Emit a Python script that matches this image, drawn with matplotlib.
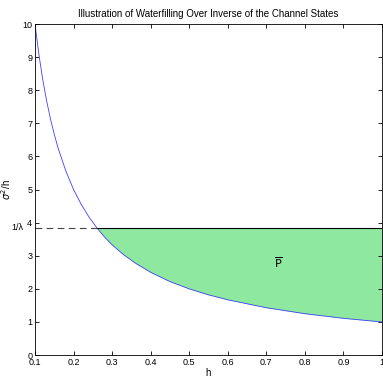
import matplotlib.pyplot as plt
import numpy as np

plt.rcParams['font.family'] = ['Liberation Sans Narrow', 'Liberation Sans', 'DejaVu Sans']

# channel gain h and inverse sigma^2/h
h = [0.10, 0.11, 0.12, 0.13, 0.14, 0.15, 0.16, 0.18, 0.20, 0.22, 0.24, 0.26,
     0.28, 0.30, 0.33, 0.36, 0.40, 0.45, 0.50, 0.55, 0.60, 0.70, 0.80, 0.90, 1.00]
inv = [10.0, 9.09, 8.33, 7.69, 7.14, 6.67, 6.25, 5.56, 5.00, 4.55, 4.17, 3.85,
       3.57, 3.33, 3.03, 2.78, 2.50, 2.22, 2.00, 1.82, 1.67, 1.43, 1.25, 1.11, 1.00]
water_level = 3.85
h_cross = 0.26

x_ticks = [0.1, 0.2, 0.3, 0.4, 0.5, 0.6, 0.7, 0.8, 0.9, 1]
x_ticklabels = ['0.1', '0.2', '0.3', '0.4', '0.5', '0.6', '0.7', '0.8', '0.9', '1']
y_ticks = [0, 1, 2, 3, 4, 5, 6, 7, 8, 9, 10]

fig = plt.figure(figsize=(3.83, 3.83), dpi=100)
ax = fig.add_axes([0.0914, 0.073, 0.906, 0.864])

h_arr = np.array(h)
inv_arr = np.array(inv)
mask = h_arr >= h_cross
ax.fill_between(h_arr[mask], inv_arr[mask], water_level, color='#8fe8a0', linewidth=0)
ax.plot(h, inv, color='#4040ff', linewidth=0.6)
ax.plot([h_cross, 1], [water_level, water_level], color='black', linewidth=0.8)
ax.plot([0.1, h_cross], [water_level, water_level], color='#444444', linewidth=0.8,
        linestyle=(0, (6, 4)))

ax.text(0.73, 2.8, r'$\overline{\mathrm{P}}$', fontsize=8, ha='center', va='center')

ax.set_xlim(0.1, 1)
ax.set_ylim(0, 10)
ax.set_xticks(x_ticks)
ax.set_xticklabels(x_ticklabels)
ax.set_yticks(y_ticks + [water_level])
ax.set_yticklabels([str(v) for v in y_ticks] + [''])
ax.tick_params(direction='in', labelsize=6.5, length=3, width=0.6, top=True, right=True, pad=2)
ax.text(-0.035, water_level, '1/\u03bb', transform=ax.get_yaxis_transform(),
        ha='right', va='center', fontsize=6.5)
for s in ax.spines.values():
    s.set_linewidth(0.6)

ax.set_title('Illustration of Waterfilling Over Inverse of the Channel States', fontsize=7, pad=5)
ax.set_xlabel('h', fontsize=7)
ax.xaxis.set_label_coords(0.5, -0.04)
ax.set_ylabel(r'$\sigma^2$/h', fontsize=7)
ax.yaxis.set_label_coords(-0.063, 0.5)

fig.savefig('out.png', dpi=100)
